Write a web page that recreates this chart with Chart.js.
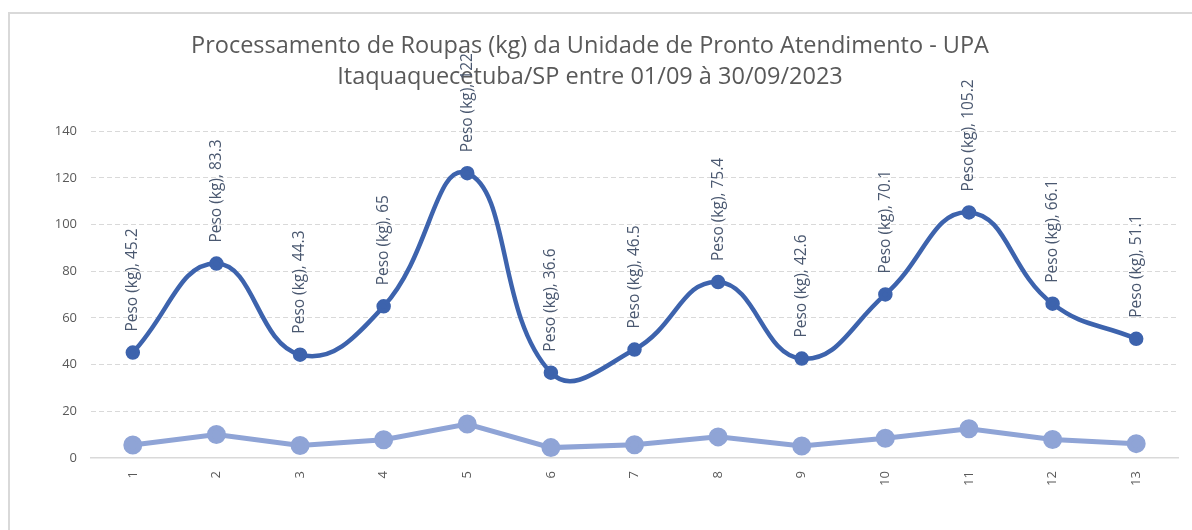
<!DOCTYPE html>
<html>
<head>
<meta charset="utf-8">
<script src="https://cdn.jsdelivr.net/npm/chart.js@4.4.1/dist/chart.umd.min.js"></script>
<style>
  html, body { margin: 0; padding: 0; background: #fff; overflow: hidden; }
  #moldura { position: absolute; left: 8px; top: 12px; width: 1200px; height: 540px; border: 2px solid #d9d9d9; box-sizing: border-box; }
  #wrap { position: absolute; left: 0; top: 0; width: 1192px; height: 530px; }
</style>
</head>
<body>
<div id="moldura"></div>
<div id="wrap"><canvas id="grafico-roupas"></canvas></div>
<script>
const dias = ['1', '2', '3', '4', '5', '6', '7', '8', '9', '10', '11', '12', '13'];
const pesoKg = [45.2, 83.3, 44.3, 65, 122, 36.6, 46.5, 75.4, 42.6, 70.1, 105.2, 66.1, 51.1];
const pesoSecundario = [5.6, 10.1, 5.4, 7.9, 14.6, 4.5, 5.7, 9.1, 5.2, 8.5, 12.6, 8.0, 6.2];
const ticksY = [0, 20, 40, 60, 80, 100, 120, 140];

const fonte = '"Open Sans", "Noto Sans", sans-serif';

// rótulos verticais "Peso (kg), valor" acima de cada ponto da série principal
const rotulosPeso = {
    id: 'rotulosPeso',
    afterDatasetsDraw(chart) {
        const ctx = chart.ctx;
        const meta = chart.getDatasetMeta(0);
        ctx.save();
        ctx.font = '15.5px ' + fonte;
        ctx.fillStyle = '#4a5870';
        ctx.textAlign = 'left';
        ctx.textBaseline = 'middle';
        meta.data.forEach((pt, i) => {
            ctx.save();
            ctx.translate(pt.x, pt.y - 21);
            ctx.rotate(-Math.PI / 2);
            ctx.fillText('Peso (kg), ' + pesoKg[i], 0, 0);
            ctx.restore();
        });
        ctx.restore();
    }
};

new Chart(document.getElementById('grafico-roupas'), {
    type: 'line',
    data: {
        labels: dias,
        datasets: [
            {
                label: 'Peso (kg)', data: pesoKg,
                borderColor: '#3d63ad', backgroundColor: '#3d63ad',
                borderWidth: 4.5, tension: 0.45,
                pointRadius: 5, pointHoverRadius: 5
            },
            {
                label: 'Série 2', data: pesoSecundario,
                borderColor: '#8fa4d6', backgroundColor: '#8fa4d6',
                borderWidth: 5, tension: 0,
                pointRadius: 7, pointHoverRadius: 7
            }
        ]
    },
    options: {
        responsive: true, maintainAspectRatio: false, animation: false,
        layout: { padding: { top: 31, left: 2, right: 14, bottom: 39 } },
        plugins: {
            legend: { display: false },
            tooltip: { enabled: false },
            title: {
                display: true,
                text: ['Processamento de Roupas (kg) da Unidade de Pronto Atendimento - UPA',
                       'Itaquaquecetuba/SP entre 01/09 à 30/09/2023'],
                color: '#595959',
                font: { family: fonte, size: 23.5, weight: 'normal', lineHeight: 1.3 },
                padding: { top: 0, bottom: 39 }
            }
        },
        scales: {
            x: {
                offset: true,
                grid: { display: false, offset: true },
                border: { display: true, color: '#d9d9d9', width: 1.5 },
                ticks: { color: '#595959', font: { family: fonte, size: 13 }, minRotation: 90, maxRotation: 90, padding: 5 }
            },
            y: {
                min: 0, max: 140,
                afterBuildTicks: (axis) => { axis.ticks = ticksY.map(v => ({ value: v })); },
                afterFit: (axis) => { axis.width = 89; },
                grid: { color: (c) => c.tick && c.tick.value === 0 ? 'transparent' : '#d9d9d9', lineWidth: 1, drawTicks: false },
                border: { display: false, dash: [5, 3] },
                ticks: { color: '#595959', font: { family: fonte, size: 13 }, padding: 14 }
            }
        }
    },
    plugins: [rotulosPeso]
});
</script>
</body>
</html>
